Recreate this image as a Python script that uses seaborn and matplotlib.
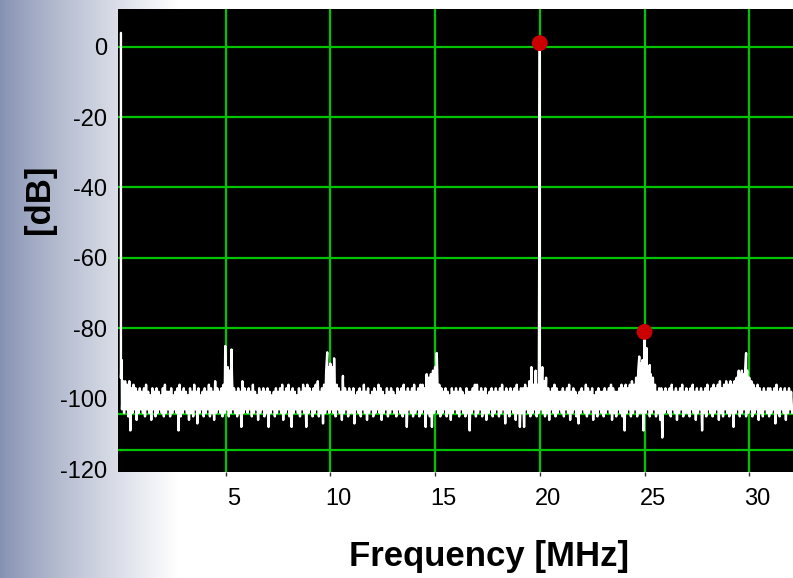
import numpy as np
import pandas as pd
import matplotlib
matplotlib.use("Agg")
import matplotlib.pyplot as plt
import seaborn as sns
from matplotlib.transforms import ScaledTranslation

# ---------------- data ----------------
bin_step_mhz = 0.1
# upper edge of the noise band, one value per 0.1 MHz from 0.0 to 32.0 MHz
noise_hi = [
    -94, -95, -95, -96, -95, -97, -96, -97, -98, -97,
    -98, -97, -96, -98, -99, -97, -98, -97, -98, -99,
    -97, -96, -98, -98, -97, -99, -98, -97, -96, -98,
    -97, -98, -99, -97, -98, -96, -98, -97, -99, -98,
    -97, -98, -96, -97, -98, -95, -97, -98, -97, -96,
    -90, -91, -92, -93, -97, -98, -97, -98, -95, -97,
    -98, -97, -98, -96, -98, -99, -97, -98, -97, -98,
    -97, -98, -99, -98, -97, -98, -97, -96, -98, -97,
    -96, -98, -97, -98, -99, -97, -98, -96, -97, -96,
    -97, -98, -97, -96, -95, -98, -97, -96, -92, -91,
    -90, -91, -94, -96, -97, -98, -95, -97, -98, -97,
    -98, -97, -99, -98, -97, -98, -96, -98, -97, -99,
    -98, -97, -98, -96, -97, -98, -99, -97, -98, -97,
    -98, -99, -97, -98, -97, -96, -98, -97, -98, -97,
    -96, -98, -97, -96, -96, -97, -95, -94, -93, -92,
    -91, -92, -96, -97, -98, -97, -98, -99, -97, -98,
    -97, -98, -97, -98, -99, -97, -98, -98, -97, -96,
    -96, -98, -97, -98, -97, -99, -98, -97, -98, -97,
    -98, -97, -96, -98, -97, -98, -97, -98, -97, -96,
    -98, -97, -97, -96, -97, -95, -94, -96, -95, -96,
    -96, -94, -95, -96, -97, -98, -97, -96, -97, -98,
    -98, -97, -98, -97, -96, -98, -97, -98, -99, -98,
    -97, -98, -96, -97, -98, -97, -99, -98, -97, -98,
    -98, -97, -98, -97, -96, -97, -98, -98, -97, -96,
    -97, -96, -97, -96, -95, -96, -94, -92, -90, -89,
    -90, -91, -92, -93, -94, -96, -98, -97, -97, -98,
    -97, -98, -97, -96, -98, -97, -98, -97, -96, -98,
    -97, -98, -97, -96, -98, -97, -98, -97, -98, -97,
    -96, -98, -97, -96, -97, -96, -95, -97, -96, -95,
    -96, -95, -96, -95, -94, -95, -94, -93, -93, -92,
    -94, -95, -96, -97, -96, -97, -98, -97, -98, -97,
    -97, -98, -97, -96, -98, -97, -98, -97, -98, -97,
    -98,
]
# lower edge of the noise band, same bins
noise_lo = [
    -103, -104, -103, -105, -109, -104, -103, -106, -104, -103,
    -104, -105, -103, -104, -106, -103, -105, -104, -103, -104,
    -105, -104, -103, -105, -104, -103, -104, -109, -105, -104,
    -103, -104, -106, -104, -105, -103, -107, -104, -103, -105,
    -104, -103, -105, -104, -106, -104, -103, -104, -105, -104,
    -103, -105, -104, -103, -104, -105, -104, -108, -104, -103,
    -104, -103, -105, -104, -103, -106, -104, -103, -105, -104,
    -108, -104, -103, -105, -104, -103, -104, -106, -104, -103,
    -105, -108, -104, -103, -104, -105, -103, -104, -108, -104,
    -103, -105, -104, -103, -105, -104, -107, -104, -103, -104,
    -103, -104, -105, -103, -104, -106, -104, -103, -105, -104,
    -104, -107, -103, -104, -105, -103, -104, -106, -104, -103,
    -105, -104, -103, -104, -106, -104, -103, -105, -104, -103,
    -104, -105, -103, -104, -105, -104, -108, -103, -104, -105,
    -104, -103, -105, -104, -103, -108, -104, -105, -108, -104,
    -103, -104, -105, -104, -103, -105, -104, -106, -104, -103,
    -104, -105, -103, -104, -105, -104, -109, -104, -103, -105,
    -104, -103, -105, -104, -106, -104, -103, -105, -104, -103,
    -105, -104, -103, -107, -104, -105, -103, -104, -106, -104,
    -108, -104, -108, -103, -104, -105, -104, -103, -105, -104,
    -103, -104, -105, -104, -106, -103, -104, -105, -104, -103,
    -104, -105, -103, -104, -106, -104, -103, -105, -107, -104,
    -103, -104, -105, -104, -103, -106, -104, -105, -103, -104,
    -105, -104, -103, -104, -106, -104, -105, -103, -104, -105,
    -109, -104, -103, -105, -104, -103, -105, -104, -104, -109,
    -104, -103, -105, -104, -103, -105, -104, -106, -111, -104,
    -103, -104, -105, -103, -104, -106, -104, -103, -105, -104,
    -104, -105, -103, -104, -106, -104, -103, -109, -104, -105,
    -103, -104, -105, -104, -103, -106, -104, -105, -103, -104,
    -105, -104, -108, -104, -103, -105, -104, -103, -105, -104,
    -103, -105, -104, -103, -106, -104, -105, -103, -104, -105,
    -104, -103, -107, -104, -105, -103, -104, -106, -104, -103,
    -104,
]
# tones and spurs standing above the floor
spike_freq = [0.0, 0.04, 4.98, 5.28, 9.85, 10.18, 10.6, 14.6, 15.08,
              19.6, 19.8, 20.0, 20.12, 20.3,
              24.75, 25.0, 25.1, 25.25, 29.5, 29.65, 29.85, 30.0]
spike_db = [3.9, -89, -85, -86, -86.8, -88.5, -93.5, -93, -87,
            -91, -92, 1.0, -91, -94,
            -88, -81, -85.6, -90.4, -92, -92, -87, -94]
# red markers on the fundamental and the strongest spur
marker_freq = [20.0, 25.0]
marker_db = [1.0, -81.0]

x_ticks = [5, 10, 15, 20, 25, 30]
y_ticks = [0, -20, -40, -60, -80, -100, -120]
y_grid_levels = [0, -20, -40, -60, -80, -104.2, -114.6]

# ---------------- build table ----------------
rows = list(zip(spike_freq, spike_db))
for i, (h, l) in enumerate(zip(noise_hi, noise_lo)):
    f = round(i * bin_step_mhz, 2)
    rows.append((f, h))
    rows.append((f + bin_step_mhz / 2, l))
df = pd.DataFrame(rows, columns=["freq", "db"]).sort_values("freq", kind="stable")
markers = pd.DataFrame({"freq": marker_freq, "db": marker_db})

# ---------------- style ----------------
sns.set_theme(style="white")
plt.rcParams["font.family"] = ["Liberation Sans", "DejaVu Sans"]
plt.rcParams["axes.unicode_minus"] = False

W, H = 793, 578
fig = plt.figure(figsize=(W / 100, H / 100), dpi=100)

# background gradient (blue-grey on the left fading to white)
bg = fig.add_axes([0, 0, 1, 1], zorder=-10)
xs = np.arange(W)
t = np.clip(xs / 178.0, 0, 1) ** 0.85
left = np.array([133, 145, 178]) / 255.0
right = np.array([255, 255, 255]) / 255.0
grad = left[None, :] * (1 - t[:, None]) + right[None, :] * t[:, None]
bg.imshow(np.repeat(grad[None, :, :], 4, axis=0), aspect="auto", extent=[0, 1, 0, 1])
bg.set_axis_off()

left_px, right_px, top_px, bot_px = 118, 793, 9.3, 471.7
ax = fig.add_axes([left_px / W, 1 - bot_px / H, (right_px - left_px) / W, (bot_px - top_px) / H])
ax.set_facecolor("black")

green = "#00c400"
for lv in y_grid_levels:
    ax.axhline(lv, color=green, lw=1.6, zorder=1)
for xv in x_ticks:
    ax.axvline(xv, color=green, lw=1.6, zorder=1)

sns.lineplot(data=df, x="freq", y="db", sort=False, estimator=None,
             color="white", lw=1.7, ax=ax, zorder=3)
sns.scatterplot(data=markers, x="freq", y="db", color="#cc0000", s=130,
                edgecolor="none", ax=ax, zorder=5)

ax.set_xlim(-0.14, 32.09)
ax.set_ylim(-120.7, 10.6)
ax.set_xticks(x_ticks)
ax.set_yticks(y_ticks)
ax.set_xticklabels([str(v) for v in x_ticks])
ax.set_yticklabels([str(v) for v in y_ticks])
ax.tick_params(axis="y", length=0, pad=8, labelsize=17, colors="black")
ax.tick_params(axis="x", length=3, width=1, color="#333333", pad=9,
               labelsize=17, labelcolor="black", bottom=True)
for lbl in ax.get_xticklabels():
    lbl.set_transform(lbl.get_transform() + ScaledTranslation(8 / 100, 0, fig.dpi_scale_trans))
for s in ax.spines.values():
    s.set_visible(False)

ax.set_xlabel("Frequency [MHz]", fontsize=25, fontweight="bold", color="black")
ax.set_ylabel("[dB]", fontsize=25, fontweight="bold", color="black")
ax.xaxis.set_label_coords((489 - left_px) / (right_px - left_px), -0.148)
ax.yaxis.set_label_coords((56 - left_px) / (right_px - left_px), 0.59)

fig.savefig("out.png", dpi=100)
